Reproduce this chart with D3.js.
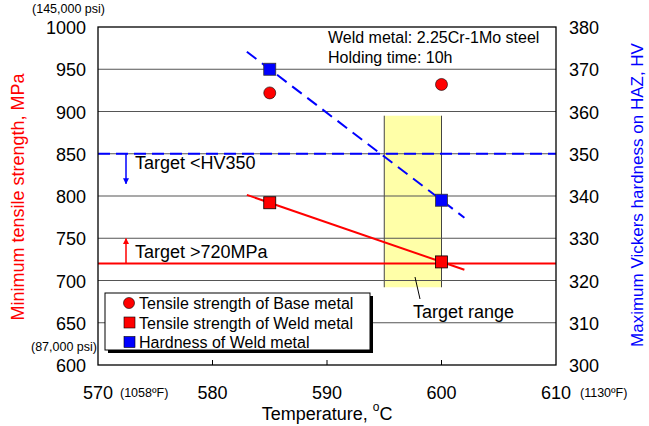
<!DOCTYPE html>
<html><head><meta charset="utf-8">
<script src="https://cdn.jsdelivr.net/npm/d3@7"></script>
<style>body{margin:0;background:#fff}svg{display:block;font-family:"Liberation Sans",Arial,sans-serif}</style>
</head><body><svg id="c" width="649" height="426"></svg>
<script>
const temps = [585, 600];
const baseTensile = [922, 932];
const weldTensile = [792, 722];
const weldHardness = [370, 339];
const trendTemps = [583, 602];
const targetTensile = 720;
const targetHardness = 350;
const targetRangeTemp = [595, 600];
const targetRangeMPa = [692, 895];
const xTicks = [570, 580, 590, 600, 610];
const yTicks = [600, 650, 700, 750, 800, 850, 900, 950, 1000];
const y2Ticks = [300, 310, 320, 330, 340, 350, 360, 370, 380];
const legendItems = ["Tensile strength of Base metal", "Tensile strength of Weld metal", "Hardness of Weld metal"];

const svg = d3.select("#c");
const L = 98, R = 556, T = 27, B = 365;
const x = d3.scaleLinear().domain([570, 610]).range([L, R]);
const y = d3.scaleLinear().domain([600, 1000]).range([B, T]);
const y2 = d3.scaleLinear().domain([300, 380]).range([B, T]);

// target range box
svg.append("rect").attr("x", x(targetRangeTemp[0])).attr("y", y(targetRangeMPa[1]))
  .attr("width", x(targetRangeTemp[1]) - x(targetRangeTemp[0]))
  .attr("height", y(targetRangeMPa[0]) - y(targetRangeMPa[1]))
  .attr("fill", "#ffff99").attr("opacity", 0.85);
targetRangeTemp.forEach(t => svg.append("line").attr("x1", x(t)).attr("x2", x(t))
  .attr("y1", y(targetRangeMPa[1])).attr("y2", y(targetRangeMPa[0])).attr("stroke", "#444").attr("stroke-width", 1));

// gridlines
svg.append("g").selectAll("line").data(yTicks.slice(1, -1)).join("line")
  .attr("x1", L).attr("x2", R).attr("y1", d => y(d)).attr("y2", d => y(d))
  .attr("stroke", "#555").attr("stroke-width", 1.2);

// bottom ticks
svg.append("g").selectAll("line").data(xTicks.slice(1, -1)).join("line")
  .attr("x1", d => x(d)).attr("x2", d => x(d)).attr("y1", B).attr("y2", B - 5)
  .attr("stroke", "#000");

// target lines
svg.append("line").attr("x1", L).attr("x2", R).attr("y1", y(targetTensile)).attr("y2", y(targetTensile))
  .attr("stroke", "#ff0000").attr("stroke-width", 2);
svg.append("line").attr("x1", L).attr("x2", R).attr("y1", y2(targetHardness)).attr("y2", y2(targetHardness))
  .attr("stroke", "#0000ff").attr("stroke-width", 2).attr("stroke-dasharray", "12,6");

// trend lines
function fit(xs, ys) { const m = (ys[1] - ys[0]) / (xs[1] - xs[0]); return t => ys[0] + m * (t - xs[0]); }
const fw = fit(temps, weldTensile), fh = fit(temps, weldHardness);
svg.append("line").attr("x1", x(trendTemps[0])).attr("x2", x(trendTemps[1]))
  .attr("y1", y(fw(trendTemps[0]))).attr("y2", y(fw(trendTemps[1])))
  .attr("stroke", "#ff0000").attr("stroke-width", 2);
svg.append("line").attr("x1", x(trendTemps[0])).attr("x2", x(trendTemps[1]))
  .attr("y1", y2(fh(trendTemps[0]))).attr("y2", y2(fh(trendTemps[1])))
  .attr("stroke", "#0000ff").attr("stroke-width", 2).attr("stroke-dasharray", "12,7");

// frame
svg.append("rect").attr("x", L).attr("y", T).attr("width", R - L).attr("height", B - T)
  .attr("fill", "none").attr("stroke", "#000").attr("stroke-width", 1.3);

// markers
svg.append("g").selectAll("circle").data(temps).join("circle")
  .attr("cx", d => x(d)).attr("cy", (d, i) => y(baseTensile[i])).attr("r", 6)
  .attr("fill", "#ff0000").attr("stroke", "#000").attr("stroke-width", 0.6);
svg.append("g").selectAll("rect").data(temps).join("rect")
  .attr("x", d => x(d) - 6).attr("y", (d, i) => y(weldTensile[i]) - 6).attr("width", 12).attr("height", 12)
  .attr("fill", "#ff0000").attr("stroke", "#000").attr("stroke-width", 0.8);
svg.append("g").selectAll("rect").data(temps).join("rect")
  .attr("x", d => x(d) - 6).attr("y", (d, i) => y2(weldHardness[i]) - 6).attr("width", 12).attr("height", 12)
  .attr("fill", "#0000ff").attr("stroke", "#333").attr("stroke-width", 0.8);

// arrows
const defs = svg.append("defs");
[["ab", "#0000ff"], ["ar", "#ff0000"]].forEach(([id, c]) => defs.append("marker").attr("id", id)
  .attr("viewBox", "0 0 10 10").attr("refX", 9).attr("refY", 5).attr("markerWidth", 4).attr("markerHeight", 4)
  .attr("orient", "auto").append("path").attr("d", "M0,0L10,5L0,10z").attr("fill", c));
svg.append("line").attr("x1", 126).attr("x2", 126).attr("y1", y2(targetHardness)).attr("y2", y2(targetHardness) + 30)
  .attr("stroke", "#0000ff").attr("stroke-width", 1.5).attr("marker-end", "url(#ab)");
svg.append("line").attr("x1", 126).attr("x2", 126).attr("y1", y(targetTensile)).attr("y2", y(targetTensile) - 25)
  .attr("stroke", "#ff0000").attr("stroke-width", 1.5).attr("marker-end", "url(#ar)");
svg.append("text").attr("x", 135).attr("y", 169).attr("font-size", 18).text("Target <HV350");
svg.append("text").attr("x", 135).attr("y", 258).attr("font-size", 18).text("Target >720MPa");

// target range label
svg.append("line").attr("x1", 415).attr("y1", 277).attr("x2", 420).attr("y2", 299).attr("stroke", "#000");
svg.append("text").attr("x", 413).attr("y", 318).attr("font-size", 18).text("Target range");

// annotation
svg.append("text").attr("x", 328).attr("y", 43).attr("font-size", 16).text("Weld metal: 2.25Cr-1Mo steel");
svg.append("text").attr("x", 328).attr("y", 63).attr("font-size", 16).text("Holding time: 10h");

// legend
const lg = svg.append("g");
lg.append("rect").attr("x", 108).attr("y", 296).attr("width", 265).attr("height", 57).attr("fill", "#000");
lg.append("rect").attr("x", 105).attr("y", 293).attr("width", 265).attr("height", 57).attr("fill", "#fff").attr("stroke", "#000");
legendItems.forEach((t, i) => {
  const cy = 303 + i * 19.5;
  if (i === 0) lg.append("circle").attr("cx", 129).attr("cy", cy).attr("r", 5.5).attr("fill", "#ff0000").attr("stroke", "#000").attr("stroke-width", 0.6);
  else lg.append("rect").attr("x", 124).attr("y", cy - 5.5).attr("width", 11).attr("height", 11)
    .attr("fill", i === 1 ? "#ff0000" : "#0000ff").attr("stroke", "#000").attr("stroke-width", 0.6);
  lg.append("text").attr("x", 139).attr("y", cy + 6).attr("font-size", 16).text(t);
});

// tick labels
svg.append("g").selectAll("text").data(yTicks).join("text")
  .attr("x", 86).attr("y", d => y(d) + 7).attr("text-anchor", "end").attr("font-size", 18).text(d => d);
svg.append("g").selectAll("text").data(y2Ticks).join("text")
  .attr("x", 569).attr("y", d => y2(d) + 7).attr("font-size", 18).text(d => d);
svg.append("g").selectAll("text").data(xTicks).join("text")
  .attr("x", d => x(d)).attr("y", 399).attr("text-anchor", "middle").attr("font-size", 18).text(d => d);
svg.append("text").attr("x", 120).attr("y", 397).attr("font-size", 12.5).text("(1058ºF)");
svg.append("text").attr("x", 580).attr("y", 397).attr("font-size", 12.5).text("(1130ºF)");
svg.append("text").attr("x", 105).attr("y", 13).attr("text-anchor", "end").attr("font-size", 12.5).text("(145,000 psi)");
svg.append("text").attr("x", 97).attr("y", 351).attr("text-anchor", "end").attr("font-size", 12.5).text("(87,000 psi)");

// axis titles
const xt = svg.append("text").attr("x", 327).attr("y", 420).attr("text-anchor", "middle").attr("font-size", 18);
xt.append("tspan").text("Temperature, ");
xt.append("tspan").attr("font-size", 12).attr("dy", -9).text("o");
xt.append("tspan").attr("dy", 9).text("C");
svg.append("text").attr("transform", `translate(24,197) rotate(-90)`).attr("text-anchor", "middle")
  .attr("font-size", 18).attr("fill", "#ff0000").text("Minimum tensile strength, MPa");
svg.append("text").attr("transform", `translate(643,195) rotate(-90)`).attr("text-anchor", "middle")
  .attr("font-size", 17).attr("fill", "#0000ff").text("Maximum Vickers hardness on HAZ, HV");
</script></body></html>
